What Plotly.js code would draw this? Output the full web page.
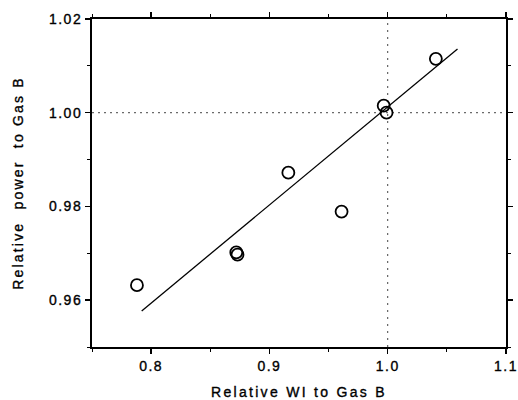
<!DOCTYPE html>
<html><head><meta charset="utf-8">
<script src="https://cdn.plot.ly/plotly-3.0.1.min.js"></script>
<style>
html,body{margin:0;padding:0;background:#fff}#c{width:518px;height:400px}
#c .xtick text, #c .ytick text{letter-spacing:1.5px}
#c .xtitle{letter-spacing:2.3px}
#c .ytitle{letter-spacing:2.2px}
#c .xtick text, #c .ytick text, #c .xtitle, #c .ytitle{stroke:#000;stroke-width:0.35px}
</style>
</head><body><div id="c"></div>
<script>
const relWI = [0.788, 0.872, 0.873, 0.916, 0.961, 0.9966, 0.999, 1.0407];
const relPower = [0.9632, 0.9702, 0.9697, 0.9872, 0.9789, 1.0015, 1.0000, 1.0115];
const fitX = [0.792, 1.059];
const fitY = [0.9577, 1.0136];
const xTicks = [0.8, 0.9, 1.0, 1.1];
const xTickText = ['0.8', '0.9', '1.0', '1.1'];
const yTicks = [0.96, 0.98, 1.00, 1.02];
const yTickText = ['0.96', '0.98', '1.00', '1.02'];
const refX = 1.0, refY = 1.0;
const xTitle = 'Relative WI to Gas B';
const yTitle = 'Relative  power  to Gas B';

const tickFont = {family: 'Liberation Sans, Arial, sans-serif', size: 14, color: '#000'};
const titleFont = {family: 'Liberation Sans, Arial, sans-serif', size: 14, color: '#000'};
const data = [
  {x: fitX, y: fitY, mode: 'lines', line: {color: '#000', width: 1.3}, hoverinfo: 'skip'},
  {x: relWI, y: relPower, mode: 'markers',
   marker: {symbol: 'circle-open', size: 12, color: '#000', line: {width: 1.8, color: '#000'}}}
];
const axBase = {showgrid: false, zeroline: false, showline: true, linecolor: '#000', linewidth: 2,
  mirror: 'ticks', ticks: 'outside', ticklen: 5, tickwidth: 1.5, tickcolor: '#000', tickfont: tickFont,
  minor: {ticks: 'outside', ticklen: 3, tickwidth: 1, tickcolor: '#000'}};
const layout = {
  width: 518, height: 400, showlegend: false,
  paper_bgcolor: '#fff', plot_bgcolor: '#fff',
  margin: {l: 92, r: 12, t: 19, b: 53},
  font: tickFont,
  xaxis: Object.assign({}, axBase, {range: [0.75, 1.1], tickvals: xTicks, ticktext: xTickText,
    minor: Object.assign({}, axBase.minor, {dtick: 0.05, tick0: 0.75}),
    title: {text: xTitle + '\u00A0\u00A0', font: titleFont, standoff: 14}}),
  yaxis: Object.assign({}, axBase, {range: [0.95, 1.02], tickvals: yTicks, ticktext: yTickText,
    minor: Object.assign({}, axBase.minor, {dtick: 0.01, tick0: 0.95}),
    title: {text: '\u00A0'.repeat(8) + yTitle, font: titleFont, standoff: 28}}),
  shapes: [
    {type: 'line', xref: 'paper', x0: 0, x1: 1, yref: 'y', y0: refY, y1: refY, layer: 'below',
     line: {color: '#444', width: 1, dash: '2px,4px'}},
    {type: 'line', xref: 'x', x0: refX, x1: refX, yref: 'paper', y0: 0, y1: 1, layer: 'below',
     line: {color: '#444', width: 1, dash: '2px,5px'}}
  ]
};
Plotly.newPlot('c', data, layout, {displayModeBar: false, staticPlot: true});
</script></body></html>
